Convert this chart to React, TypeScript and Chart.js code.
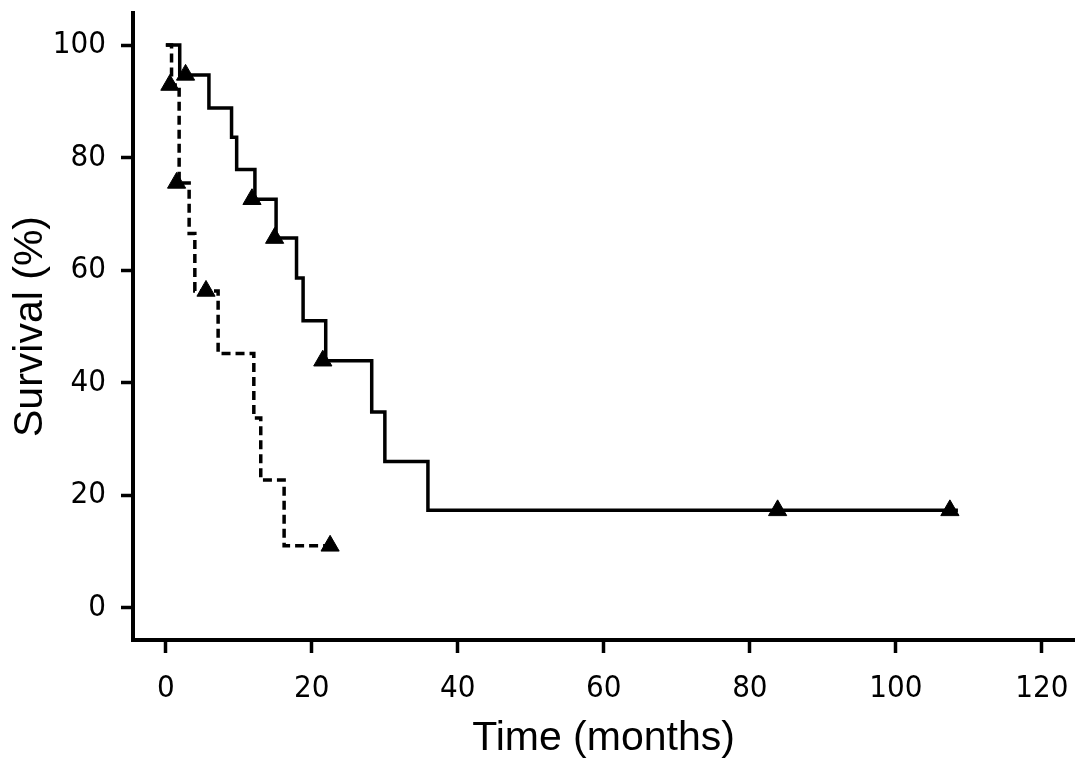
import React, { useEffect, useRef } from "react";
import { Chart, registerables } from "chart.js";

Chart.register(...registerables);

// Axis ticks
const xTicks = [0, 20, 40, 60, 80, 100, 120];
const yTicks = [0, 20, 40, 60, 80, 100];

// Solid curve (Kaplan-Meier steps): time in months, survival %
const solidTimes = [0, 1.9, 5.9, 9.0, 9.7, 12.2, 15.1, 17.9, 18.8, 21.9, 28.2, 30.0, 35.9, 108.5];
const solidSurvival = [100, 94.7, 88.8, 83.6, 77.9, 72.6, 65.7, 58.6, 51.0, 43.9, 34.8, 26.0, 17.3, 17.3];

// Dashed curve
const dashedTimes = [0, 0.78, 1.82, 3.19, 3.97, 7.16, 12.05, 13.0, 16.2, 22.5];
const dashedSurvival = [100, 92.9, 75.5, 66.5, 56.3, 45.2, 33.7, 22.7, 11.0, 11.0];

// Censor marks
const solidCensorTimes = [2.7, 11.8, 14.9, 21.5, 83.8, 107.4];
const solidCensorSurvival = [94.7, 72.6, 65.7, 43.9, 17.3, 17.3];
const dashedCensorTimes = [0.55, 1.47, 5.5, 22.5];
const dashedCensorSurvival = [92.9, 75.5, 56.3, 11.0];

const pts = (xs: number[], ys: number[]) => xs.map((x, i) => ({ x, y: ys[i] }));

const tickFont = { family: "'Liberation Sans Narrow', 'DejaVu Sans Condensed', sans-serif", size: 31 };
const titleFont = { family: "'Liberation Sans', Arial, sans-serif", size: 41 };

export default function App() {
  const ref = useRef<HTMLCanvasElement>(null);

  useEffect(() => {
    document.body.style.margin = "0";
    const chart = new Chart(ref.current!, {
      type: "scatter",
      data: {
        datasets: [
          {
            data: pts(solidTimes, solidSurvival),
            showLine: true,
            stepped: "before",
            borderColor: "#000",
            borderWidth: 3.5,
            pointRadius: 0,
            fill: false,
            borderJoinStyle: "miter",
          },
          {
            data: pts(dashedTimes, dashedSurvival),
            showLine: true,
            stepped: "before",
            borderColor: "#000",
            borderWidth: 3.5,
            borderDash: [9, 5],
            pointRadius: 0,
            fill: false,
            borderJoinStyle: "miter",
          },
          {
            data: pts(solidCensorTimes, solidCensorSurvival),
            showLine: false,
            pointStyle: "triangle",
            pointRadius: 10.5,
            backgroundColor: "#000",
            borderColor: "#000",
            borderWidth: 1,
          },
          {
            data: pts(dashedCensorTimes, dashedCensorSurvival),
            showLine: false,
            pointStyle: "triangle",
            pointRadius: 10.5,
            backgroundColor: "#000",
            borderColor: "#000",
            borderWidth: 1,
          },
        ],
      } as any,
      options: {
        animation: false,
        responsive: true,
        maintainAspectRatio: false,
        layout: { padding: { top: 13, right: 13, left: 0, bottom: 0 } },
        plugins: { legend: { display: false }, tooltip: { enabled: false } },
        scales: {
          x: {
            type: "linear",
            min: -4.5,
            max: 124.4,
            afterBuildTicks: (s: any) => {
              s.ticks = xTicks.map((v) => ({ value: v }));
            },
            afterFit: (s: any) => {
              s.height = 129;
              s.paddingLeft = 0;
              s.paddingRight = 0;
            },
            grid: {
              drawOnChartArea: false,
              drawTicks: true,
              tickLength: 13,
              tickWidth: 3.5,
              tickColor: "#000",
            },
            border: { display: true, color: "#000", width: 4 },
            ticks: {
              color: "#000",
              font: tickFont,
              padding: 17,
              maxRotation: 0,
              autoSkip: false,
            },
            title: {
              display: true,
              text: "Time (months)",
              color: "#000",
              font: titleFont,
              padding: { top: 0, bottom: 6 },
            },
          },
          y: {
            type: "linear",
            min: -5.74,
            max: 105.7,
            afterBuildTicks: (s: any) => {
              s.ticks = yTicks.map((v) => ({ value: v }));
            },
            afterFit: (s: any) => {
              s.width = 133;
              s.paddingTop = 0;
              s.paddingBottom = 0;
            },
            grid: {
              drawOnChartArea: false,
              drawTicks: true,
              tickLength: 12,
              tickWidth: 3.5,
              tickColor: "#000",
            },
            border: { display: true, color: "#000", width: 4 },
            ticks: {
              color: "#000",
              font: tickFont,
              padding: 15,
              autoSkip: false,
            },
            title: {
              display: true,
              text: "Survival (%)",
              color: "#000",
              font: titleFont,
              padding: { top: 6, bottom: 0 },
            },
          },
        },
      } as any,
    });
    return () => chart.destroy();
  }, []);

  return (
    <div style={{ position: "relative", width: 1087, height: 769 }}>
      <canvas ref={ref} />
    </div>
  );
}
